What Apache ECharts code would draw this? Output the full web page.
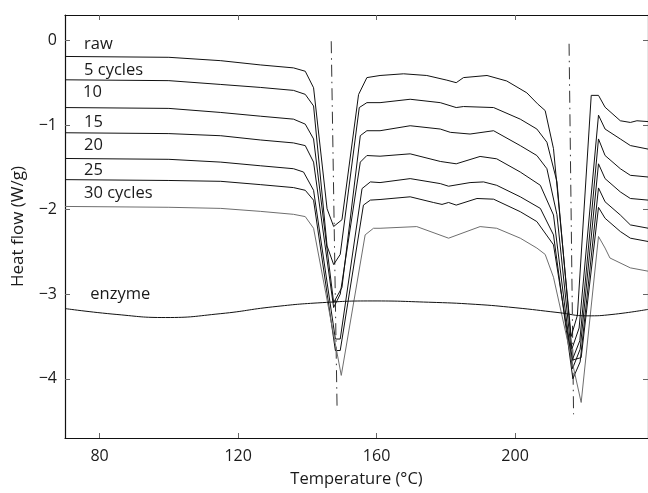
<!DOCTYPE html>
<html>
<head>
<meta charset="utf-8">
<script src="https://cdn.jsdelivr.net/npm/echarts@6/dist/echarts.min.js"></script>
<style>
  html, body { margin: 0; padding: 0; background: #fff; }
  #chart { width: 648px; height: 493px; }
</style>
</head>
<body>
<div id="chart"></div>
<script>
// DSC thermograms: heat flow (W/g) against temperature (°C), pairs of [T, heat flow]
const rawCurve = [[70,-0.19],[100,-0.20],[115,-0.24],[126.4,-0.29],[136,-0.325],[139.4,-0.365],[141.8,-0.56],[145.7,-1.99],[147.6,-2.20],[150,-2.12],[154.8,-0.64],[157.2,-0.44],[161,-0.415],[167.8,-0.395],[174.5,-0.415],[180.3,-0.47],[183,-0.50],[185.1,-0.44],[191.9,-0.415],[197.6,-0.48],[203.4,-0.62],[206.5,-0.75],[208.7,-0.83],[211.1,-1.28],[216.2,-3.5],[218,-3.25],[222,-0.65],[224.1,-0.65],[226,-0.79],[230.4,-0.95],[233.3,-0.97],[235.2,-0.95],[238.4,-0.96]];
const cycles5 = [[70,-0.466],[100,-0.476],[115,-0.521],[126.4,-0.556],[136,-0.591],[139.4,-0.638],[141.8,-0.775],[145.7,-2.43],[147.6,-2.65],[149.5,-2.53],[155,-0.794],[157.2,-0.736],[161,-0.736],[169.7,-0.696],[178.4,-0.736],[183,-0.794],[185.1,-0.782],[193.8,-0.794],[201.5,-0.931],[206.3,-1.048],[209.2,-1.204],[212.1,-1.67],[216.4,-3.65],[218.5,-3.4],[224.1,-0.884],[226,-1.048],[230.4,-1.165],[233.3,-1.243],[238.4,-1.285]];
const cycles10 = [[70,-0.794],[100,-0.804],[115,-0.852],[126.4,-0.896],[136,-0.931],[139.4,-0.99],[141.8,-1.165],[147.6,-3.10],[150,-2.92],[155.3,-1.126],[157.2,-1.068],[161,-1.068],[169.7,-1.009],[178.4,-1.048],[181.3,-1.087],[187,-1.107],[193.8,-1.068],[201.5,-1.244],[206.3,-1.361],[209.2,-1.517],[212.1,-2.06],[216.5,-3.78],[218.7,-3.55],[224.1,-1.165],[226,-1.361],[230.4,-1.517],[233.3,-1.595],[238.4,-1.615]];
const cycles15 = [[70,-1.092],[100,-1.102],[115,-1.127],[126.4,-1.177],[136,-1.212],[139.4,-1.244],[141.8,-1.439],[147.6,-3.158],[149.5,-3.0],[155.3,-1.439],[157.2,-1.361],[161,-1.369],[169.7,-1.341],[178.4,-1.431],[183,-1.459],[189.9,-1.372],[194.7,-1.40],[201.5,-1.556],[207.3,-1.713],[211.1,-2.064],[216.6,-3.88],[218.8,-3.65],[224.1,-1.459],[226,-1.634],[230.4,-1.791],[233.3,-1.869],[238.4,-1.888]];
const cycles20 = [[70,-1.396],[100,-1.406],[115,-1.439],[126.4,-1.482],[136,-1.517],[138.9,-1.556],[141.8,-1.772],[148.1,-3.53],[149.5,-3.53],[155.8,-1.752],[158.2,-1.673],[161,-1.681],[169.7,-1.634],[178.4,-1.693],[180.8,-1.724],[187,-1.681],[190.9,-1.673],[194.7,-1.713],[201.5,-1.849],[207.3,-1.986],[211.1,-2.299],[216.7,-4.0],[218.8,-3.8],[224.1,-1.744],[226,-1.908],[230.4,-2.064],[233.3,-2.181],[238.4,-2.22]];
const cycles25 = [[70,-1.646],[100,-1.656],[115,-1.666],[126.4,-1.705],[136,-1.74],[139.4,-1.772],[141.8,-1.889],[148.1,-3.666],[149.5,-3.666],[156.2,-1.947],[158.2,-1.888],[161,-1.881],[169.7,-1.849],[176.4,-1.916],[178.9,-1.939],[180.8,-1.916],[183,-1.947],[189,-1.869],[193.8,-1.877],[201.5,-2.025],[206.3,-2.142],[211.1,-2.416],[216.4,-3.78],[219.1,-3.75],[224.1,-1.974],[226,-2.103],[230.4,-2.259],[233.3,-2.338],[238.4,-2.377]];
const cycles30 = [[70,-1.963],[100,-1.973],[115,-1.986],[126.4,-2.021],[136,-2.056],[139.4,-2.083],[141.8,-2.221],[149.8,-3.96],[156.7,-2.299],[159.1,-2.221],[161,-2.221],[171.6,-2.201],[180.8,-2.338],[189.9,-2.201],[194.7,-2.221],[201.5,-2.338],[206.3,-2.455],[208.7,-2.53],[211.1,-2.8],[219.1,-4.28],[224.1,-2.318],[226,-2.455],[227.4,-2.572],[233.3,-2.689],[238.4,-2.728]];
const enzymeCurve = [[70,-3.17],[85,-3.24],[99,-3.276],[115,-3.23],[130,-3.15],[144.3,-3.10],[158.7,-3.08],[175,-3.095],[188.5,-3.12],[200,-3.16],[212.4,-3.217],[220.8,-3.256],[228,-3.24],[238.4,-3.18]];

// peak markers (dash-dot verticals)
const peakMarker1 = [[146.9,-0.01],[148.6,-4.37]];
const peakMarker2 = [[215.6,-0.04],[216.9,-4.42]];

// curve captions: [text, T, heat flow]
const captions = [
  ['raw', 75.5, -0.05],
  ['5 cycles', 75.5, -0.35],
  ['10', 75.2, -0.61],
  ['15', 75.5, -0.965],
  ['20', 75.5, -1.245],
  ['25', 75.5, -1.535],
  ['30 cycles', 75.5, -1.81],
  ['enzyme', 77.3, -3.0]
];

const xTicks = [80, 120, 160, 200];
const yTicks = [-4, -3, -2, -1, 0];

const FONT = '"Open Sans", "DejaVu Sans", sans-serif';
const INK = '#1a1a1a';

const chart = echarts.init(document.getElementById('chart'), null, { renderer: 'canvas' });

function trace(name, data, color, smooth) {
  return {
    type: 'line', name: name, data: data,
    symbol: 'none', showSymbol: false, silent: true,
    smooth: smooth || false,
    lineStyle: { color: color, width: 1 },
    z: 3
  };
}
function marker(data) {
  return {
    type: 'line', data: data, symbol: 'none', silent: true,
    lineStyle: { color: '#333', width: 1, type: [12, 5, 1.5, 5] },
    z: 2
  };
}

const xBase = {
  type: 'value', min: 70, max: 238.4,
  axisLine: { show: true, onZero: false, lineStyle: { color: '#111', width: 1.2 } },
  axisTick: { show: true, inside: true, length: 5, customValues: xTicks, lineStyle: { color: '#666', width: 1 } },
  splitLine: { show: false }
};
const yBase = {
  type: 'value', min: -4.7, max: 0.3,
  axisLine: { show: true, onZero: false, lineStyle: { color: '#111', width: 1.2 } },
  axisTick: { show: true, inside: true, length: 5, customValues: yTicks, lineStyle: { color: '#666', width: 1 } },
  splitLine: { show: false }
};

chart.setOption({
  animation: false,
  backgroundColor: '#fff',
  grid: { left: 65, right: 0, top: 15, bottom: 52 },
  xAxis: [
    Object.assign({}, xBase, {
      position: 'bottom',
      axisLabel: { customValues: xTicks, margin: 10, fontSize: 16, fontFamily: FONT, color: INK },
      name: 'Temperature (°C)', nameLocation: 'middle', nameGap: 33,
      nameTextStyle: { fontSize: 16.5, fontFamily: FONT, color: INK }
    }),
    Object.assign({}, xBase, { position: 'top', axisLabel: { show: false } })
  ],
  yAxis: [
    Object.assign({}, yBase, {
      position: 'left',
      axisLabel: {
        customValues: yTicks, margin: 8, fontSize: 16, fontFamily: FONT, color: INK,
        formatter: v => String(v).replace('-', '\u2212')
      },
      name: 'Heat flow (W/g)', nameLocation: 'middle', nameGap: 38,
      nameTextStyle: { fontSize: 17, fontFamily: FONT, color: INK }
    }),
    Object.assign({}, yBase, { position: 'right', axisLabel: { show: false } })
  ],
  series: [
    marker(peakMarker1),
    marker(peakMarker2),
    trace('raw', rawCurve, '#111'),
    trace('5 cycles', cycles5, '#111'),
    trace('10', cycles10, '#111'),
    trace('15', cycles15, '#111'),
    trace('20', cycles20, '#111'),
    trace('25', cycles25, '#111'),
    trace('30 cycles', cycles30, '#6e6e6e'),
    trace('enzyme', enzymeCurve, '#111', 0.5)
  ]
});

// captions placed in data coordinates
chart.setOption({
  graphic: captions.map(([text, t, v]) => {
    const p = chart.convertToPixel({ xAxisIndex: 0, yAxisIndex: 0 }, [t, v]);
    return {
      type: 'text', x: p[0], y: p[1], silent: true,
      style: { text: text, fill: INK, font: '16.5px ' + FONT, textAlign: 'left', textVerticalAlign: 'middle' }
    };
  })
});
</script>
</body>
</html>
